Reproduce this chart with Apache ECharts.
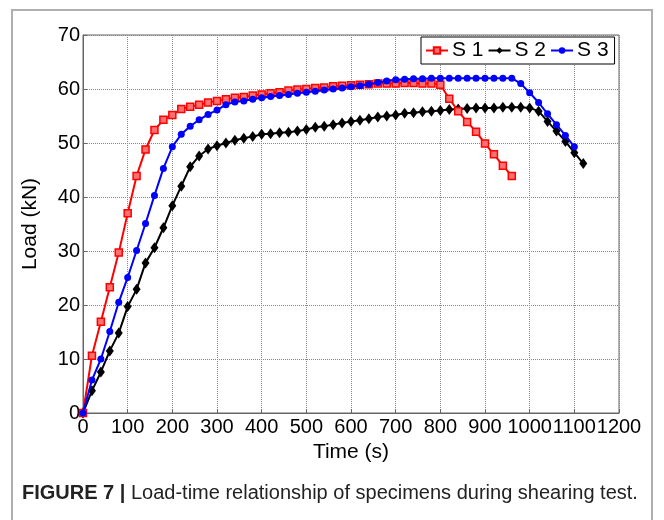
<!DOCTYPE html>
<html>
  <head>
    <meta charset="utf-8" />
    <title>Load-time</title>
    <script src="https://cdn.jsdelivr.net/npm/echarts@6/dist/echarts.min.js"></script>
    <style>
      body { margin: 0; background: #fff; }
    </style>
  </head>
  <body>
    <div id="main" style="width: 664px; height: 520px"></div>

    <script type="text/javascript">
      // 时间轴 (s)
      const s1Time = [0, 20, 40, 60, 80, 100, 120, 140, 160, 180, 200, 220, 240, 260, 280, 300, 320, 340, 360, 380, 400, 420, 440, 460, 480, 500, 520, 540, 560, 580, 600, 620, 640, 660, 680, 700, 720, 740, 760, 780, 800, 820, 840, 860, 880, 900, 920, 940, 960]
      const s1Load = [0, 10.6, 16.9, 23.3, 29.7, 37.0, 43.9, 48.8, 52.4, 54.3, 55.2, 56.3, 56.7, 57.1, 57.5, 57.8, 58.1, 58.4, 58.5, 58.8, 59.0, 59.2, 59.4, 59.7, 59.9, 60.0, 60.2, 60.3, 60.5, 60.6, 60.7, 60.8, 60.9, 61.0, 61.0, 61.0, 61.1, 61.1, 61.0, 61.0, 60.8, 58.2, 55.9, 53.9, 52.1, 49.9, 47.9, 45.8, 43.9]

      const s2Time = [0, 20, 40, 60, 80, 100, 120, 140, 160, 180, 200, 220, 240, 260, 280, 300, 320, 340, 360, 380, 400, 420, 440, 460, 480, 500, 520, 540, 560, 580, 600, 620, 640, 660, 680, 700, 720, 740, 760, 780, 800, 820, 840, 860, 880, 900, 920, 940, 960, 980, 1000, 1020, 1040, 1060, 1080, 1100, 1120]
      const s2Load = [0, 4.1, 7.6, 11.5, 14.8, 19.7, 22.9, 27.8, 30.6, 34.3, 38.4, 42.0, 45.6, 47.6, 48.9, 49.5, 50.0, 50.5, 50.9, 51.2, 51.6, 51.7, 51.9, 52.0, 52.2, 52.5, 52.9, 53.1, 53.4, 53.7, 54.0, 54.2, 54.5, 54.8, 55.0, 55.2, 55.5, 55.6, 55.8, 55.9, 56.0, 56.2, 56.3, 56.4, 56.5, 56.5, 56.5, 56.6, 56.6, 56.6, 56.5, 55.9, 54.0, 52.2, 50.3, 48.2, 46.2]

      const s3Time = [0, 20, 40, 60, 80, 100, 120, 140, 160, 180, 200, 220, 240, 260, 280, 300, 320, 340, 360, 380, 400, 420, 440, 460, 480, 500, 520, 540, 560, 580, 600, 620, 640, 660, 680, 700, 720, 740, 760, 780, 800, 820, 840, 860, 880, 900, 920, 940, 960, 980, 1000, 1020, 1040, 1060, 1080, 1100]
      const s3Load = [0, 6.1, 10.0, 15.1, 20.5, 25.1, 30.1, 35.1, 40.3, 45.3, 49.3, 51.6, 53.1, 54.3, 55.3, 56.1, 57.1, 57.6, 57.8, 58.1, 58.4, 58.6, 58.8, 59.0, 59.2, 59.4, 59.6, 59.8, 60.0, 60.2, 60.4, 60.6, 60.9, 61.2, 61.5, 61.7, 61.8, 61.9, 61.9, 62.0, 62.0, 62.0, 62.0, 62.0, 62.0, 62.0, 62.0, 62.0, 62.0, 61.0, 59.3, 57.5, 55.4, 53.4, 51.4, 49.3]

      const seriesNames = ['S 1', 'S 2', 'S 3']

      const pairs = (t, v) => t.map((x, i) => [x, v[i]])
      const font = '"Liberation Sans", Arial, sans-serif'

      var myChart = echarts.init(document.getElementById('main'))

      option = {
        animation: false,
        backgroundColor: '#fff',
        textStyle: { fontFamily: font },
        graphic: [
          {
            type: 'rect',
            shape: { x: 12, y: 10, width: 640, height: 530 },
            style: { fill: 'none', stroke: '#b0b0b0', lineWidth: 2 },
            z: -1,
          },
          {
            type: 'text',
            left: 22,
            top: 483,
            style: {
              text: '{b|FIGURE 7 |} Load-time relationship of specimens during shearing test.',
              fontSize: 20,
              fontFamily: font,
              fill: '#222',
              rich: {
                b: { fontWeight: 'bold', fontSize: 20, fontFamily: font, fill: '#222' },
              },
            },
          },
        ],
        legend: {
          data: seriesNames,
          left: 421,
          top: 37,
          orient: 'horizontal',
          itemGap: 4,
          itemWidth: 22,
          itemHeight: 8,
          padding: [3, 6, 3, 4],
          borderColor: '#000',
          borderWidth: 1,
          backgroundColor: '#fff',
          textStyle: { fontSize: 21, color: '#000', fontFamily: font, padding: [0, 0, 0, -1] },
        },
        grid: {
          left: 83,
          right: 45,
          top: 35,
          bottom: 107,
          show: true,
          borderColor: '#666',
          borderWidth: 1,
        },
        xAxis: {
          type: 'value',
          min: 0,
          max: 1200,
          interval: 100,
          name: 'Time (s)',
          nameLocation: 'middle',
          nameGap: 25,
          nameTextStyle: { fontSize: 21, color: '#000', fontFamily: font },
          axisLine: { lineStyle: { color: '#666' } },
          axisTick: { inside: true, length: 4, lineStyle: { color: '#666' } },
          axisLabel: {
            fontSize: 20,
            color: '#000',
            margin: 4,
            hideOverlap: false,
            showMaxLabel: true,
            fontFamily: font,
            formatter: (v) => String(v),
          },
          splitLine: { lineStyle: { type: 'dotted', color: '#888' } },
        },
        yAxis: {
          type: 'value',
          min: 0,
          max: 70,
          interval: 10,
          name: 'Load (kN)',
          nameLocation: 'middle',
          nameGap: 42,
          nameTextStyle: { fontSize: 21, color: '#000', fontFamily: font },
          axisLine: { show: true, lineStyle: { color: '#666' } },
          axisTick: { show: true, inside: true, length: 4, lineStyle: { color: '#666' } },
          axisLabel: { fontSize: 20, color: '#000', margin: 3, fontFamily: font },
          splitLine: { lineStyle: { type: 'dotted', color: '#888' } },
        },
        series: [
          {
            name: 'S 1',
            type: 'line',
            data: pairs(s1Time, s1Load),
            symbol: 'rect',
            symbolSize: 7,
            lineStyle: { color: '#ff0000', width: 2 },
            itemStyle: { color: '#ff7070', borderColor: '#ff0000', borderWidth: 1.5 },
            z: 3,
          },
          {
            name: 'S 2',
            type: 'line',
            data: pairs(s2Time, s2Load),
            symbol: 'diamond',
            symbolSize: [8, 11],
            lineStyle: { color: '#000', width: 2 },
            itemStyle: { color: '#000' },
            z: 2,
          },
          {
            name: 'S 3',
            type: 'line',
            data: pairs(s3Time, s3Load),
            symbol: 'circle',
            symbolSize: 7,
            lineStyle: { color: '#0000ff', width: 2 },
            itemStyle: { color: '#0000ff' },
            z: 4,
          },
        ],
      }

      myChart.setOption(option)
    </script>
  </body>
</html>
